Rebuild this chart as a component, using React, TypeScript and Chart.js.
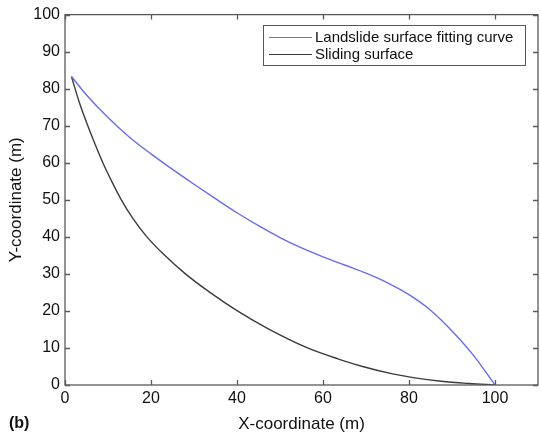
import React, { useEffect, useRef } from "react";
import { Chart, registerables } from "chart.js";

Chart.register(...registerables);

const seriesLabels = ["Landslide surface fitting curve", "Sliding surface"];
const seriesColors = ["#6a6af6", "#3c3c3c"];

const fitX = [1.5, 5, 10, 15, 20, 25, 30, 35, 40, 45, 50, 55, 60, 65, 70, 75, 80, 85, 90, 95, 100];
const fitY = [83.3, 78.3, 72.2, 66.9, 62.4, 58.2, 54.2, 50.3, 46.5, 43, 39.8, 37, 34.6, 32.4, 30.2, 27.6, 24.4, 20.2, 14.6, 8, 0];

const slideX = [1.5, 3.3, 5.3, 7.0, 8.8, 10.9, 12.9, 15.7, 18.9, 23.0, 28.0, 33.7, 40.1, 47.5, 56.4, 63.6, 69.2, 76.2, 81, 87.5, 94, 100];
const slideY = [83.3, 76.4, 70, 65, 60, 54.9, 50.4, 45.1, 40.2, 35.2, 30, 25, 20, 15, 10, 7, 5, 3, 2, 1, 0.4, 0];

const xTickValues = [0, 20, 40, 60, 80, 100];
const yTickValues = [0, 10, 20, 30, 40, 50, 60, 70, 80, 90, 100];
const xRange = [0, 110];
const yRange = [0, 100];
const xTitle = "X-coordinate (m)";
const yTitle = "Y-coordinate (m)";
const panelLabel = "(b)";

const FONT = "'Liberation Sans', Arial, Helvetica, sans-serif";

const framePlugin = {
  id: "matlabFrame",
  afterDraw(chart: any) {
    const ctx = chart.ctx as CanvasRenderingContext2D;
    const { left, right, top, bottom } = chart.chartArea;
    const xs = chart.scales.x;
    const ys = chart.scales.y;
    ctx.save();
    ctx.strokeStyle = "#5a5a5a";
    ctx.lineWidth = 1.3;
    ctx.strokeRect(left, top, right - left, bottom - top);
    const tl = 5;
    ctx.beginPath();
    xTickValues.forEach((v) => {
      const px = Math.round(xs.getPixelForValue(v)) + 0.5;
      ctx.moveTo(px, bottom);
      ctx.lineTo(px, bottom - tl);
      ctx.moveTo(px, top);
      ctx.lineTo(px, top + tl);
    });
    yTickValues.forEach((v) => {
      const py = Math.round(ys.getPixelForValue(v)) + 0.5;
      ctx.moveTo(left, py);
      ctx.lineTo(left + tl, py);
      ctx.moveTo(right, py);
      ctx.lineTo(right - tl, py);
    });
    ctx.stroke();

    // legend
    const bx = 263, by = 25, bw = 262, bh = 40;
    ctx.fillStyle = "#ffffff";
    ctx.fillRect(bx, by, bw, bh);
    ctx.strokeStyle = "#555555";
    ctx.lineWidth = 1;
    ctx.strokeRect(bx + 0.5, by + 0.5, bw, bh);
    ctx.font = `15px ${FONT}`;
    ctx.textBaseline = "middle";
    ctx.textAlign = "left";
    chart.data.datasets.forEach((ds: any, i: number) => {
      const y = by + 12 + i * 17;
      ctx.strokeStyle = ds.borderColor;
      ctx.lineWidth = 1.2;
      ctx.beginPath();
      ctx.moveTo(bx + 6, y + 0.5);
      ctx.lineTo(bx + 49, y + 0.5);
      ctx.stroke();
      ctx.fillStyle = "#111111";
      ctx.fillText(ds.label, bx + 52, y + 1);
    });

    // panel label
    ctx.font = `bold 16px ${FONT}`;
    ctx.fillStyle = "#111111";
    ctx.textAlign = "left";
    ctx.fillText(panelLabel, 9, 424);
    ctx.restore();
  },
};

export default function App() {
  const ref = useRef<HTMLCanvasElement | null>(null);

  useEffect(() => {
    document.body.style.margin = "0";
    const canvas = ref.current;
    if (!canvas) return;
    const chart = new Chart(canvas, {
      type: "scatter",
      data: {
        datasets: [
          {
            label: seriesLabels[0],
            data: fitX.map((x, i) => ({ x, y: fitY[i] })),
            showLine: true,
            borderColor: seriesColors[0],
            borderWidth: 1.4,
            pointRadius: 0,
            cubicInterpolationMode: "monotone",
          },
          {
            label: seriesLabels[1],
            data: slideX.map((x, i) => ({ x, y: slideY[i] })),
            showLine: true,
            borderColor: seriesColors[1],
            borderWidth: 1.4,
            pointRadius: 0,
            cubicInterpolationMode: "monotone",
          },
        ],
      },
      options: {
        responsive: false,
        animation: false,
        devicePixelRatio: 1,
        layout: { padding: { left: 0, top: 14, right: 3, bottom: 0 } },
        plugins: {
          legend: { display: false },
          tooltip: { enabled: false },
        },
        scales: {
          x: {
            type: "linear",
            min: xRange[0],
            max: xRange[1],
            grid: { display: false, drawTicks: false },
            border: { display: false },
            afterBuildTicks: (s: any) => {
              s.ticks = xTickValues.map((v) => ({ value: v }));
            },
            afterFit: (s: any) => {
              s.height = 51;
            },
            ticks: {
              padding: 4,
              maxRotation: 0,
              color: "#111111",
              font: { family: FONT, size: 16 },
            },
            title: {
              display: true,
              text: xTitle,
              color: "#111111",
              font: { family: FONT, size: 17 },
              padding: { top: 0, bottom: 1 },
            },
          },
          y: {
            type: "linear",
            min: yRange[0],
            max: yRange[1],
            grid: { display: false, drawTicks: false },
            border: { display: false },
            afterBuildTicks: (s: any) => {
              s.ticks = yTickValues.map((v) => ({ value: v }));
            },
            afterFit: (s: any) => {
              s.width = 65;
            },
            ticks: {
              padding: 5,
              color: "#111111",
              font: { family: FONT, size: 16 },
            },
            title: {
              display: true,
              text: yTitle,
              color: "#111111",
              font: { family: FONT, size: 17 },
              padding: { top: 6, bottom: 0 },
            },
          },
        },
      },
      plugins: [framePlugin],
    } as any);
    return () => chart.destroy();
  }, []);

  return <canvas ref={ref} width={541} height={436} style={{ display: "block" }} />;
}
